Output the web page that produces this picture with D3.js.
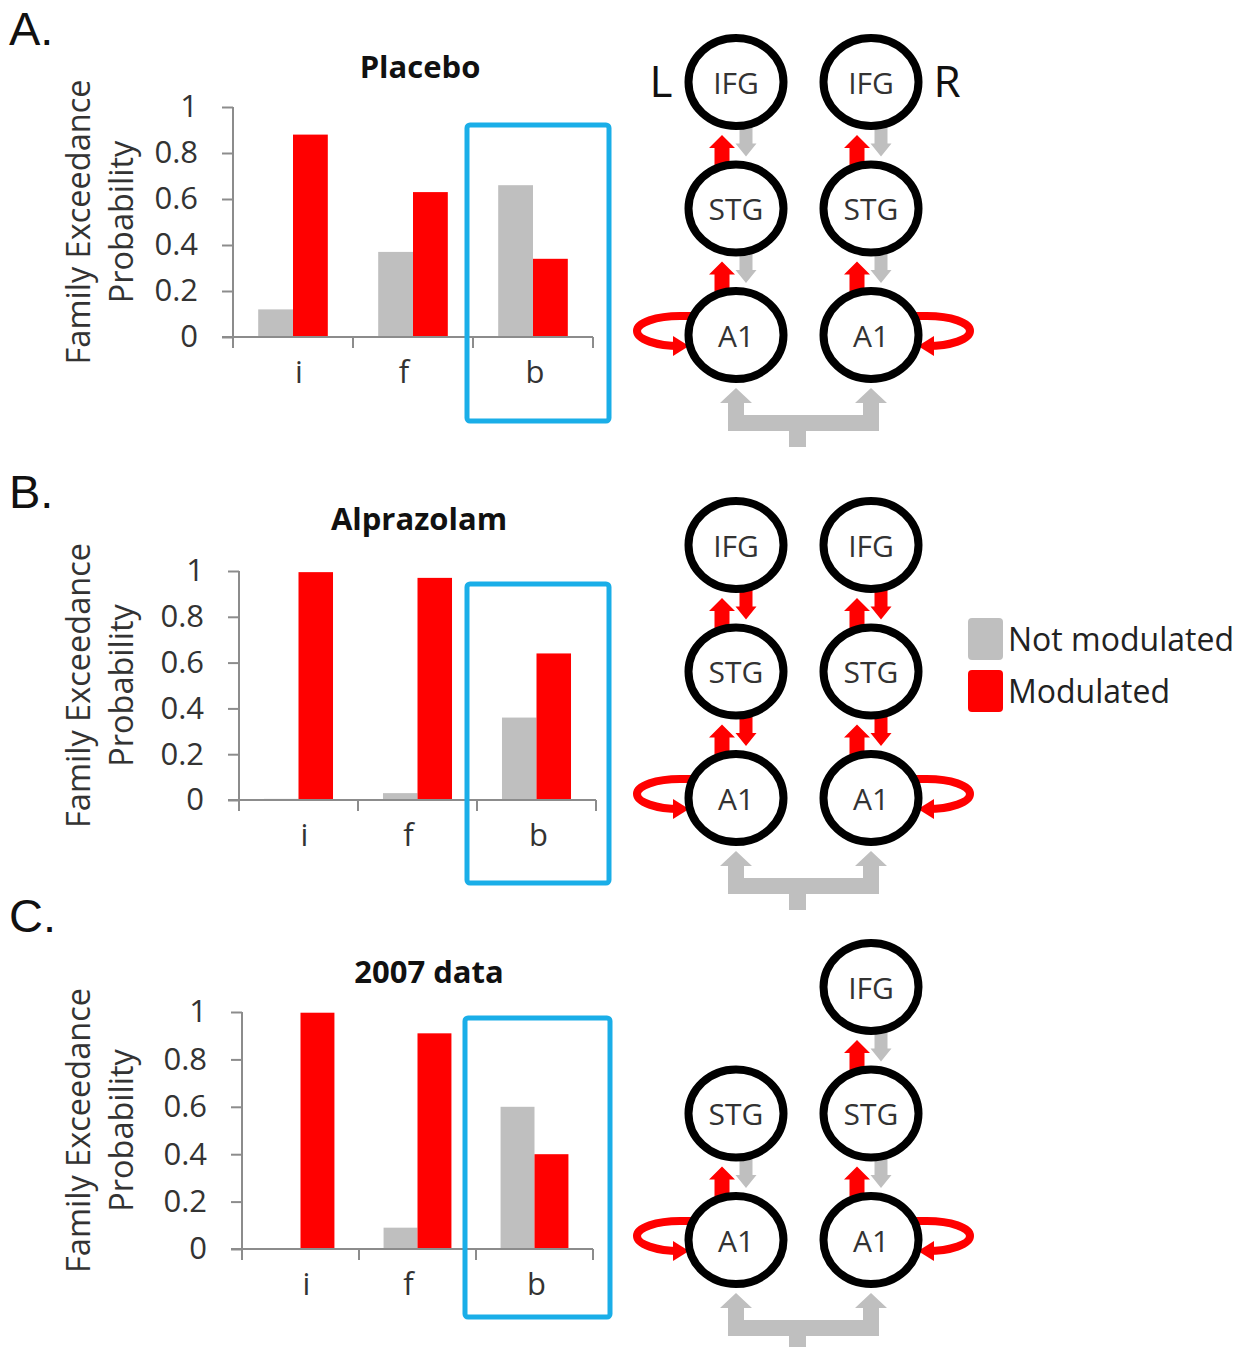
<!DOCTYPE html>
<html>
<head>
<meta charset="utf-8">
<script src="https://cdn.jsdelivr.net/npm/d3@7"></script>
<style>
  body { margin: 0; background: #fff; }
  svg { display: block; font-family: "Open Sans", "DejaVu Sans", sans-serif; }
</style>
</head>
<body>
<div id="fig"></div>
<script>
// ---- data ----
const categories = ['i', 'f', 'b'];
const seriesNames = ['Not modulated', 'Modulated'];
const seriesColors = ['#bfbfbf', '#ff0000'];
const yTicks = [0, 0.2, 0.4, 0.6, 0.8, 1];

const panelLetters = ['A.', 'B.', 'C.'];
const panelTitles = ['Placebo', 'Alprazolam', '2007 data'];

const placeboNotMod = [0.12, 0.37, 0.66];
const placeboMod = [0.88, 0.63, 0.34];
const alprazolamNotMod = [0.005, 0.03, 0.36];
const alprazolamMod = [0.995, 0.97, 0.64];
const data2007NotMod = [0.003, 0.09, 0.60];
const data2007Mod = [0.997, 0.91, 0.40];

const hemispheres = ['L', 'R'];
const regions = ['IFG', 'STG', 'A1'];
const leftRegions = [['IFG', 'STG', 'A1'], ['IFG', 'STG', 'A1'], ['STG', 'A1']];
const rightRegions = [['IFG', 'STG', 'A1'], ['IFG', 'STG', 'A1'], ['IFG', 'STG', 'A1']];
const forwardModulated = [true, true, true];
const backwardModulated = [false, true, false];
const intrinsicModulated = [true, true, true];
const lateralModulated = [false, false, false];

// ---- layout (positions only) ----
const W = 1256, H = 1347;
const layout = [
  { letterY: 45,  titleX: 420, titleY: 78,  axisX: 233, axisEnd: 593, y0: 337,  y1: 107,  boxL: 467, boxR: 609, boxTop: 125,  boxBottom: 421,  dy: 0 },
  { letterY: 508, titleX: 419, titleY: 530, axisX: 239, axisEnd: 596, y0: 800,  y1: 571,  boxL: 467, boxR: 609, boxTop: 584,  boxBottom: 883,  dy: 463 },
  { letterY: 932, titleX: 429, titleY: 983, axisX: 242, axisEnd: 593, y0: 1249, y1: 1012, boxL: 465, boxR: 610, boxTop: 1018, boxBottom: 1317, dy: 905 }
];
const labelNudge = { i: 6, f: -9, b: 2 };
const panelData = [
  [placeboNotMod, placeboMod],
  [alprazolamNotMod, alprazolamMod],
  [data2007NotMod, data2007Mod]
];

const svg = d3.select('#fig').append('svg')
  .attr('width', W).attr('height', H)
  .attr('viewBox', `0 0 ${W} ${H}`);
svg.append('rect').attr('width', W).attr('height', H).attr('fill', '#fff');

const axisColor = '#8c8c8c';
const textColor = '#333';

layout.forEach((L, p) => {
  const g = svg.append('g');

  // panel letter
  g.append('text')
    .attr('x', 9).attr('y', L.letterY)
    .attr('font-family', '"Liberation Sans", Arial, sans-serif')
    .attr('font-size', 47).attr('fill', '#111')
    .text(panelLetters[p]);

  // title
  g.append('text')
    .attr('x', L.titleX).attr('y', L.titleY)
    .attr('text-anchor', 'middle')
    .attr('font-size', 31).attr('font-weight', 700).attr('fill', '#111')
    .text(panelTitles[p]);

  const x = d3.scaleBand().domain(categories)
    .range([L.axisX, L.axisEnd])
    .paddingInner(0.42).paddingOuter(0.21);
  const xs = d3.scaleBand().domain(seriesNames).range([0, x.bandwidth()]);
  const y = d3.scaleLinear().domain([0, 1]).range([L.y0, L.y1]);

  // bars
  const rows = categories.map((c, i) => ({ cat: c, vals: panelData[p].map(s => s[i]) }));
  const cg = g.selectAll('.cat').data(rows).enter().append('g')
    .attr('transform', d => `translate(${x(d.cat)},0)`);
  cg.selectAll('rect').data(d => d.vals.map((v, k) => ({ v, k })))
    .enter().append('rect')
    .attr('x', d => xs(seriesNames[d.k]))
    .attr('width', xs.bandwidth())
    .attr('y', d => y(d.v))
    .attr('height', d => L.y0 - y(d.v))
    .attr('fill', d => seriesColors[d.k]);

  // y axis
  const yAxis = d3.axisLeft(y).tickValues(yTicks).tickSize(11).tickPadding(24)
    .tickFormat(d => d3.format('~g')(d));
  const ya = g.append('g').attr('transform', `translate(${L.axisX},0)`).call(yAxis);
  ya.select('.domain').attr('stroke', axisColor).attr('stroke-width', 2)
    .attr('d', `M0,${L.y1}V${L.y0}`);
  ya.selectAll('.tick line').attr('stroke', axisColor).attr('stroke-width', 2);
  ya.selectAll('.tick text').attr('font-size', 31).attr('fill', textColor)
    .attr('font-family', '"Open Sans", sans-serif');

  // x axis: baseline with ticks at band edges
  const edges = categories.map(c => x(c) - x.step() * x.paddingOuter())
    .concat([L.axisEnd]);
  const xa = g.append('g');
  xa.append('line')
    .attr('x1', L.axisX - 11).attr('x2', L.axisEnd)
    .attr('y1', L.y0).attr('y2', L.y0)
    .attr('stroke', axisColor).attr('stroke-width', 2);
  xa.selectAll('.xt').data(edges).enter().append('line')
    .attr('x1', d => d).attr('x2', d => d)
    .attr('y1', L.y0).attr('y2', L.y0 + 11)
    .attr('stroke', axisColor).attr('stroke-width', 2);
  xa.selectAll('.xl').data(categories).enter().append('text')
    .attr('x', d => x(d) + x.bandwidth() / 2 + labelNudge[d])
    .attr('y', L.y0 + 46)
    .attr('text-anchor', 'middle')
    .attr('font-size', 31).attr('fill', textColor)
    .text(d => d);

  // y label (two lines)
  const yMid = (L.y0 + L.y1) / 2;
  [['Family Exceedance', 77], ['Probability', 120]].forEach(([t, lx]) => {
    g.append('text')
      .attr('transform', `translate(${lx},${yMid}) rotate(-90)`)
      .attr('text-anchor', 'middle')
      .attr('dominant-baseline', 'central')
      .attr('font-size', 32.5).attr('fill', textColor)
      .text(t);
  });

  // blue highlight box around 'b'
  g.append('rect')
    .attr('x', L.boxL).attr('y', L.boxTop)
    .attr('width', L.boxR - L.boxL)
    .attr('height', L.boxBottom - L.boxTop)
    .attr('rx', 3)
    .attr('fill', 'none').attr('stroke', '#1aaee8').attr('stroke-width', 5);

  drawNetwork(p, L.dy);
});

// ---- network diagram ----
function drawNetwork(p, dy) {
  const g = svg.append('g').attr('transform', `translate(0,${dy})`);
  const col = d3.scalePoint().domain(hemispheres).range([736, 871]);
  const row = d3.scalePoint().domain(regions).range([82, 335]);
  const rx = 47.5, ry = 44, sw = 8;
  const outerRy = ry + sw / 2;
  const red = seriesColors[1], grey = seriesColors[0];

  const nodes = [];
  leftRegions[p].forEach(r => nodes.push({ h: 'L', r }));
  rightRegions[p].forEach(r => nodes.push({ h: 'R', r }));

  function blockArrow(cx, yFrom, yTo, shaft, head, headLen) {
    const dir = yTo < yFrom ? -1 : 1;
    const hb = yTo - dir * headLen;
    return `M${cx - shaft / 2},${yFrom}V${hb}H${cx - head / 2}L${cx},${yTo}` +
      `L${cx + head / 2},${hb}H${cx + shaft / 2}V${yFrom}Z`;
  }

  // vertical connections
  hemispheres.forEach(h => {
    const list = h === 'L' ? leftRegions[p] : rightRegions[p];
    for (let k = 0; k < list.length - 1; k++) {
      const up = list[k], low = list[k + 1];
      const upBottom = row(up) + outerRy;
      const lowTop = row(low) - outerRy;
      const cx = col(h);
      g.append('path')
        .attr('d', blockArrow(cx - 14, lowTop + 5, upBottom + 5, 15, 26, 13))
        .attr('fill', forwardModulated[p] ? red : grey);
      g.append('path')
        .attr('d', blockArrow(cx + 10, upBottom - 5, lowTop - 4, 13, 21, 13))
        .attr('fill', backwardModulated[p] ? red : grey);
    }
  });

  // intrinsic (self) loops on A1
  const a1y = row('A1');
  hemispheres.forEach(h => {
    const s = h === 'L' ? -1 : 1;
    const cx = col(h);
    const lx = cx + s * 56;
    const loopColor = intrinsicModulated[p] ? red : grey;
    g.append('path')
      .attr('d', `M${cx + s * 44},${a1y - 19}H${lx}` +
        `A43 15 0 0 ${s < 0 ? 0 : 1} ${lx},${a1y + 11}H${cx + s * 62}`)
      .attr('fill', 'none').attr('stroke', loopColor).attr('stroke-width', 8);
    g.append('path')
      .attr('d', `M${cx + s * 47},${a1y + 11}L${cx + s * 63},${a1y + 1}L${cx + s * 63},${a1y + 21}Z`)
      .attr('fill', loopColor);
  });

  // inter-hemispheric connector
  const cxL = col('L'), cxR = col('R');
  const tip = a1y + 53, hb = tip + 15, barT = a1y + 80, barB = a1y + 96, stemB = a1y + 112;
  const sx = (cxL + cxR) / 2 - 6;
  const pts = [
    [cxL, tip], [cxL + 16, hb], [cxL + 8, hb], [cxL + 8, barT], [cxR - 8, barT], [cxR - 8, hb],
    [cxR - 16, hb], [cxR, tip], [cxR + 16, hb], [cxR + 8, hb], [cxR + 8, barB], [sx + 8.5, barB],
    [sx + 8.5, stemB], [sx - 8.5, stemB], [sx - 8.5, barB], [cxL - 8, barB], [cxL - 8, hb], [cxL - 16, hb]
  ];
  g.append('path')
    .attr('d', d3.line()(pts) + 'Z')
    .attr('fill', lateralModulated[p] ? red : grey);

  // nodes
  const ng = g.selectAll('.node').data(nodes).enter().append('g')
    .attr('transform', d => `translate(${col(d.h)},${row(d.r)})`);
  ng.append('ellipse')
    .attr('rx', rx).attr('ry', ry)
    .attr('fill', '#fff').attr('stroke', '#000').attr('stroke-width', sw);
  ng.append('text')
    .attr('text-anchor', 'middle').attr('dominant-baseline', 'central')
    .attr('font-size', 30).attr('fill', '#333')
    .text(d => d.r);

  // hemisphere letters on the first panel
  if (p === 0) {
    g.append('text').attr('x', 661).attr('y', 97)
      .attr('text-anchor', 'middle').attr('font-size', 44).attr('fill', '#111').text('L');
    g.append('text').attr('x', 947).attr('y', 97)
      .attr('text-anchor', 'middle').attr('font-size', 44).attr('fill', '#111').text('R');
  }
}

// ---- legend ----
const leg = svg.append('g').attr('transform', 'translate(968,618)');
seriesNames.forEach((name, i) => {
  leg.append('rect')
    .attr('x', 0).attr('y', i * 52)
    .attr('width', 35).attr('height', 42).attr('rx', 4)
    .attr('fill', seriesColors[i]);
  leg.append('text')
    .attr('x', 40).attr('y', i * 52 + 33)
    .attr('font-size', 32).attr('fill', '#222')
    .text(name);
});
</script>
</body>
</html>
